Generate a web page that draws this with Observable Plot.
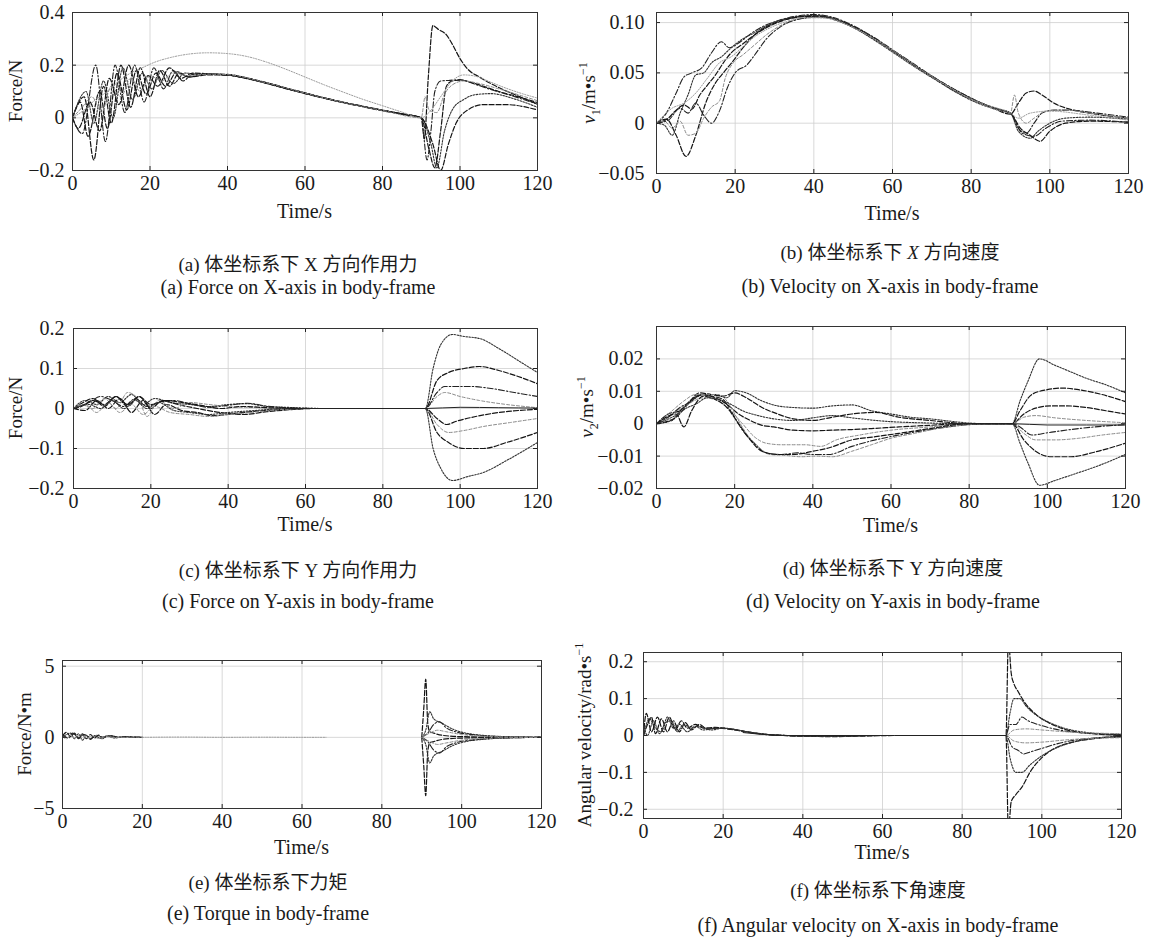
<!DOCTYPE html>
<html><head><meta charset="utf-8">
<script src="https://cdn.jsdelivr.net/npm/d3@7"></script>
<script src="https://cdn.jsdelivr.net/npm/@observablehq/plot@0.6"></script>
<style>
html,body{margin:0;padding:0;background:#fff;}
#root{position:relative;width:1162px;height:939px;overflow:hidden;background:#fff;font-family:"Liberation Serif","Noto Sans CJK SC",serif;color:#1a1a1a;}
.cap{position:absolute;transform:translate(-50%,-50%);white-space:nowrap;font-family:"Liberation Serif","Noto Sans CJK SC",serif;}
.cn{font-size:19px;}
.en{font-size:20px;}
.ylab{position:absolute;transform:translate(-50%,-50%) rotate(-90deg);white-space:nowrap;font-size:19px;}
.xlab{position:absolute;transform:translate(-50%,-50%);white-space:nowrap;font-size:20px;}
sub,sup{font-size:12px;}
</style></head><body><div id="root"></div>
<script>
// ---------- tick labels ----------
const X_TICKS = [0, 20, 40, 60, 80, 100, 120];
const A_YTICKS = [-0.2, 0, 0.2, 0.4];
const B_YTICKS = [-0.05, 0, 0.05, 0.10];
const C_YTICKS = [-0.2, -0.1, 0, 0.1, 0.2];
const D_YTICKS = [-0.02, -0.01, 0, 0.01, 0.02];
const E_YTICKS = [-5, 0, 5];
const F_YTICKS = [-0.2, -0.1, 0, 0.1, 0.2];

// ---------- (a) Force X ----------
const A1 = [[0,0],[3,0.08],[5.5,-0.16],[8,0.12],[10,-0.02],[12.5,0.2],[15,0.04],[17.5,0.19],[20,0.08],[22.5,0.18],[25,0.12],[27.5,0.17],[30,0.155],[35,0.167],[40,0.165],[45,0.152],[50,0.134],[55,0.114],[60,0.095],[65,0.076],[70,0.059],[75,0.044],[80,0.029],[85,0.015],[90,0.0],[90.8,-0.08],[91.8,0.15],[93,0.35],[94.5,0.335],[96.5,0.315],[98,0.28],[100,0.225],[102,0.185],[105,0.155],[110,0.115],[115,0.083],[120,0.052]];
const A2 = [[0,0],[2.5,-0.06],[6,0.2],[8.5,-0.09],[11,0.2],[13.5,0.02],[16,0.2],[18.5,0.06],[21,0.19],[23.5,0.11],[26,0.18],[28.5,0.14],[31,0.165],[35,0.165],[40,0.163],[45,0.15],[50,0.132],[55,0.112],[60,0.093],[65,0.075],[70,0.058],[75,0.043],[80,0.028],[85,0.015],[90,0.0],[91.5,-0.16],[92.5,-0.05],[93.5,0.1],[95,0.14],[97,0.142],[100,0.145],[103,0.132],[107,0.112],[112,0.09],[120,0.052]];
const A3 = [[0,0],[2,0.06],[4,-0.07],[7,0.1],[9,-0.04],[11.5,0.17],[14,0.03],[16.5,0.18],[19,0.09],[21.5,0.17],[24,0.12],[27,0.175],[30,0.155],[35,0.163],[40,0.162],[45,0.149],[50,0.131],[55,0.111],[60,0.092],[65,0.074],[70,0.057],[75,0.042],[80,0.027],[85,0.014],[90,0.0],[92,-0.12],[93.5,-0.19],[95,-0.05],[96.5,0.12],[98,0.14],[100,0.143],[105,0.125],[110,0.1],[115,0.08],[120,0.058]];
const A4 = [[0,0],[3.5,0.1],[5.5,-0.02],[8,0.14],[10.5,0.0],[13,0.19],[15.5,0.07],[18,0.17],[20.5,0.11],[23,0.18],[26,0.13],[29,0.17],[33,0.165],[38,0.165],[43,0.156],[48,0.139],[53,0.12],[58,0.1],[63,0.082],[68,0.064],[73,0.049],[78,0.034],[84,0.018],[90,0.0],[92.5,-0.1],[94,-0.19],[96,-0.05],[98,0.03],[101,0.07],[104,0.088],[108,0.092],[114,0.072],[120,0.04]];
const A5 = [[0,0],[1.5,-0.04],[4.5,0.06],[7,-0.05],[9.5,0.15],[12,0.05],[14.5,0.2],[17,0.08],[19.5,0.16],[22,0.12],[25,0.19],[28,0.15],[31,0.17],[36,0.166],[41,0.161],[46,0.147],[51,0.129],[56,0.109],[61,0.09],[66,0.072],[71,0.055],[76,0.04],[81,0.026],[86,0.012],[90,0.0],[93,-0.1],[95,-0.2],[97,-0.1],[99,-0.02],[102,0.03],[106,0.05],[112,0.05],[120,0.03]];
const A6 = [[0,0],[2.5,0.04],[5,0.08],[7.5,0.02],[10,0.12],[12.5,0.08],[15,0.15],[17.5,0.1],[20,0.16],[23,0.14],[26,0.17],[30,0.16],[35,0.166],[40,0.164],[50,0.133],[60,0.094],[70,0.058],[80,0.028],[90,0.0],[91,0.08],[92,0.03],[94,0.02],[96,0.09],[98,0.125],[101,0.14],[105,0.13],[110,0.11],[115,0.088],[120,0.065]];
const A7 = [[0,0],[3,0.03],[6,0.07],[9,0.1],[12,0.14],[15,0.17],[18,0.19],[21,0.21],[25,0.228],[30,0.242],[35,0.247],[40,0.244],[45,0.233],[50,0.212],[55,0.185],[60,0.155],[65,0.125],[70,0.097],[75,0.07],[80,0.046],[85,0.022],[90,0.0],[92,0.02],[95,0.08],[98,0.14],[101,0.163],[104,0.158],[108,0.135],[112,0.112],[116,0.092],[120,0.075]];

// ---------- (b) Velocity X ----------
const B1 = [[0,0],[2.5,0.004],[5,-0.012],[7.5,-0.033],[10,-0.012],[12.5,0.02],[15,0.04],[17,0.05],[19.5,0.062],[22,0.075],[25,0.088],[28,0.096],[31,0.101],[35,0.105],[40,0.107],[45,0.104],[50,0.096],[55,0.085],[60,0.072],[65,0.059],[70,0.046],[75,0.034],[80,0.024],[85,0.016],[90,0.009],[92,0.02],[94,0.03],[96,0.032],[98,0.028],[101,0.02],[105,0.014],[110,0.01],[120,0.005]];
const B2 = [[0,0],[2.5,0.01],[5,0.03],[7,0.046],[9,0.05],[11.5,0.055],[14,0.07],[16.5,0.081],[18.5,0.075],[21,0.08],[24,0.089],[27,0.096],[31,0.102],[35,0.106],[40,0.108],[45,0.105],[50,0.097],[55,0.086],[60,0.073],[65,0.06],[70,0.047],[75,0.035],[80,0.025],[85,0.016],[90,0.01],[92,-0.005],[94,-0.01],[96,0.0],[98,0.01],[101,0.013],[105,0.013],[112,0.01],[120,0.006]];
const B3 = [[0,0],[2,-0.002],[4,-0.012],[6,0.01],[8,0.028],[10,0.048],[12,0.05],[14,0.06],[16.5,0.066],[19,0.075],[22,0.084],[25,0.09],[28,0.097],[32,0.103],[36,0.106],[41,0.107],[46,0.102],[51,0.093],[56,0.081],[61,0.068],[66,0.055],[71,0.043],[76,0.031],[81,0.021],[86,0.014],[90,0.01],[92,-0.008],[95,-0.015],[97,-0.008],[100,0.0],[104,0.005],[110,0.006],[120,0.004]];
const B4 = [[0,0],[3,0.005],[5,0.013],[7,0.018],[9,0.014],[11,0.028],[13,0.038],[15,0.048],[17,0.06],[19,0.07],[22,0.079],[25,0.088],[29,0.097],[33,0.103],[38,0.106],[43,0.105],[48,0.099],[53,0.089],[58,0.077],[63,0.064],[68,0.051],[73,0.039],[78,0.028],[83,0.019],[88,0.012],[90,0.01],[92.5,-0.005],[95,-0.012],[97.5,-0.018],[100,-0.008],[104,0.0],[110,0.002],[120,0.001]];
const B5 = [[0,0],[2,0.002],[4,-0.005],[6,0.002],[8,-0.012],[10,-0.01],[12,0.005],[14,0.016],[16,0.022],[17.5,0.045],[19.5,0.06],[22,0.068],[25,0.078],[28,0.088],[32,0.098],[37,0.104],[42,0.105],[47,0.1],[52,0.091],[57,0.079],[62,0.066],[67,0.053],[72,0.041],[77,0.03],[82,0.02],[87,0.013],[90,0.01],[91,0.028],[92,0.01],[94,0.0],[96,0.005],[99,0.012],[104,0.013],[110,0.01],[120,0.005]];
const B6 = [[0,0],[3,0.003],[6,0.015],[8,0.01],[10,0.02],[12,0.008],[14,0.0],[16,0.012],[18,0.035],[20,0.05],[23,0.058],[25,0.068],[28,0.084],[32,0.097],[37,0.104],[42,0.106],[47,0.101],[52,0.092],[57,0.08],[62,0.067],[67,0.054],[72,0.042],[77,0.031],[82,0.021],[87,0.014],[90,0.01],[93,-0.01],[96,-0.013],[99,-0.005],[103,0.002],[110,0.003],[120,0.001]];
const B7 = [[0,0],[4,0.015],[7,0.02],[10,0.03],[13,0.045],[16,0.06],[19,0.066],[22,0.076],[25,0.086],[29,0.095],[33,0.101],[38,0.105],[44,0.104],[49,0.097],[54,0.087],[59,0.075],[64,0.062],[69,0.049],[74,0.037],[79,0.026],[84,0.018],[90,0.01],[92,0.005],[95,0.01],[100,0.012],[110,0.008],[120,0.003]];

// ---------- (c) Force Y ----------
const C1 = [[0,0],[3,0.02],[6,0.01],[9,0.03],[12,0.015],[15,0.035],[18,0.01],[21,0.025],[25,0.015],[30,0.01],[35,0.005],[40,0.01],[45,0.012],[50,0.005],[55,0.003],[60,0.001],[65,0],[91,0],[93,0.1],[95,0.16],[98,0.185],[101,0.18],[105,0.175],[110,0.15],[115,0.12],[120,0.09]];
const C2 = [[0,0],[2.5,0.015],[5,0.025],[8,0.005],[11,0.03],[14,0.005],[17,0.03],[20,0.0],[23,0.02],[27,0.01],[32,0.0],[38,-0.01],[44,-0.015],[50,-0.008],[56,-0.003],[62,0],[91,0],[94,-0.06],[97,-0.085],[101,-0.1],[106,-0.1],[112,-0.085],[120,-0.06]];
const C3 = [[0,0],[3,-0.005],[6,0.02],[9,0.0],[12,0.025],[15,-0.01],[18,0.02],[21,-0.015],[24,0.01],[28,-0.005],[32,-0.01],[36,-0.018],[42,-0.012],[48,-0.006],[55,-0.002],[60,0],[91,0],[94,0.07],[97,0.09],[101,0.1],[105,0.105],[110,0.095],[115,0.08],[120,0.062]];
const C4 = [[0,0],[2,0.01],[5,0.0],[8,0.025],[11,0.0],[14,0.04],[17,0.02],[19,-0.02],[22,0.02],[26,0.0],[30,0.015],[35,0.01],[40,0.005],[48,0.002],[55,0],[91,0],[94,0.03],[96,0.04],[100,0.03],[105,0.02],[112,0.01],[120,0.002]];
const C5 = [[0,0],[4,0.015],[7,0.03],[10,0.02],[13,0.005],[16,0.025],[19,0.005],[22,0.015],[26,0.02],[30,0.012],[35,0.003],[40,0.008],[45,0.013],[50,0.006],[58,0.001],[65,0],[91,0],[94,0.04],[96,0.055],[99,0.055],[103,0.055],[108,0.05],[114,0.04],[120,0.03]];
const C6 = [[0,0],[3,0.01],[6,-0.01],[9,0.015],[12,-0.01],[15,0.01],[18,-0.015],[21,0.005],[25,-0.01],[30,-0.015],[35,-0.02],[40,-0.015],[46,-0.01],[52,-0.004],[60,0],[91,0],[94,-0.04],[97,-0.06],[101,-0.055],[106,-0.045],[113,-0.035],[120,-0.025]];
const C7 = [[0,0],[2,0.005],[5,0.02],[8,0.01],[11,0.03],[14,0.01],[17,0.03],[20,0.01],[24,0.02],[28,0.015],[33,0.008],[38,0.0],[44,0.005],[50,0.002],[58,0],[91,0],[94,-0.025],[96.5,-0.04],[99,-0.032],[104,-0.02],[110,-0.01],[120,-0.002]];
const C8 = [[0,0],[4,0.01],[7,0.0],[10,0.02],[13,0.0],[16,0.02],[19,0.0],[22,0.015],[26,-0.005],[30,-0.01],[35,-0.015],[40,-0.01],[47,-0.005],[55,0],[91,0],[93,-0.1],[95,-0.15],[98,-0.18],[102,-0.17],[106,-0.16],[112,-0.13],[120,-0.085]];
const C9 = [[55,0],[91,0],[100,0.003],[110,0.002],[120,0.001]];

// ---------- (d) Velocity Y ----------
const D1 = [[0,0],[4,0.001],[6,0.004],[9,0.007],[12,0.009],[15,0.009],[18,0.008],[20,0.0102],[23,0.0095],[27,0.007],[31,0.0055],[35,0.005],[40,0.0048],[45,0.0055],[50,0.0058],[55,0.004],[60,0.003],[65,0.002],[70,0.0015],[75,0.0008],[80,0.0002],[85,0],[91,0],[93,0.007],[95,0.013],[98,0.02],[102,0.018],[106,0.016],[110,0.014],[115,0.012],[120,0.0095]];
const D2 = [[0,0],[5,0.002],[8,0.006],[11,0.0095],[14,0.009],[17,0.0085],[20,0.0095],[23,0.008],[27,0.005],[31,0.003],[35,0.0015],[40,0.001],[45,0.002],[50,0.003],[56,0.0035],[62,0.002],[70,0.001],[80,0],[91,0],[93,0.004],[96,0.009],[100,0.0105],[104,0.011],[108,0.0105],[114,0.009],[120,0.0068]];
const D3 = [[0,0],[3,0.003],[6,0.004],[9,0.0075],[12,0.009],[15,0.008],[18,0.006],[21,0.003],[24,0.001],[27,-0.0005],[30,-0.001],[35,-0.002],[40,-0.0022],[45,-0.002],[50,-0.0018],[55,-0.0015],[62,-0.001],[70,-0.0005],[80,0],[91,0],[94,0.003],[97,0.0048],[101,0.0055],[105,0.0055],[110,0.005],[115,0.004],[120,0.003]];
const D4 = [[0,0],[4,0.003],[8,0.006],[12,0.008],[16,0.007],[19,0.004],[22,0.0],[25,-0.004],[28,-0.006],[32,-0.0065],[38,-0.0065],[42,-0.007],[46,-0.005],[52,-0.0035],[60,-0.002],[70,-0.001],[80,0],[91,0],[94,0.002],[97,0.0025],[102,0.0018],[110,0.001],[120,0.0003]];
const D5 = [[0,0],[3,0.002],[6,0.005],[9,0.007],[11,0.009],[14,0.0085],[17,0.0075],[19,0.004],[22,-0.002],[25,-0.006],[28,-0.009],[32,-0.0095],[36,-0.009],[40,-0.0095],[44,-0.0095],[50,-0.007],[56,-0.005],[62,-0.0035],[70,-0.0018],[78,-0.0005],[85,0],[91,0],[93,-0.001],[96,-0.0035],[100,-0.0028],[106,-0.0018],[112,-0.001],[120,-0.0003]];
const D6 = [[0,0],[4,0.004],[7,0.007],[10,0.009],[13,0.009],[16,0.009],[18,0.007],[20,0.003],[23,-0.003],[26,-0.007],[29,-0.0095],[33,-0.0098],[37,-0.0102],[41,-0.01],[45,-0.0102],[50,-0.0085],[55,-0.0065],[60,-0.0045],[66,-0.003],[72,-0.0015],[80,-0.0003],[85,0],[91,0],[94,-0.003],[97,-0.005],[102,-0.005],[108,-0.0045],[114,-0.0035],[120,-0.0027]];
const D7 = [[0,0],[5,0.003],[7,-0.001],[9,0.004],[12,0.0085],[15,0.0075],[18,0.005],[21,0.0],[24,-0.005],[27,-0.0085],[31,-0.0095],[35,-0.0095],[40,-0.0085],[44,-0.0075],[50,-0.005],[56,-0.004],[62,-0.003],[70,-0.0015],[80,0],[91,0],[94,-0.005],[97,-0.0085],[101,-0.0102],[106,-0.0102],[112,-0.0088],[120,-0.006]];
const D8 = [[0,0],[4,0.002],[8,0.005],[10,0.006],[13,0.008],[16,0.0075],[19,0.006],[22,0.004],[26,0.0025],[30,0.0015],[35,0.001],[40,0.0018],[45,0.0025],[50,0.0018],[58,0.0008],[70,0.0002],[80,0],[91,0],[93,-0.006],[95,-0.012],[98,-0.019],[102,-0.0175],[107,-0.0155],[113,-0.013],[120,-0.0095]];
const D9 = [[75,0],[91,0],[100,-0.0004],[120,-0.0004]];

// ---------- (e) Torque ----------
const E_early1 = [[0,0.1],[1,0.35],[2,0.05],[3,0.3],[4,-0.1],[5,0.25],[6,-0.1],[7,0.2],[8,-0.05],[9,0.15],[10,0.0],[12,0.1],[14,0.0],[16,0.05],[18,0.0],[20,0.0]];
const E_early2 = [[0,0.0],[1,0.2],[2,0.3],[3,-0.1],[4,0.25],[5,-0.2],[6,0.15],[7,-0.15],[8,0.1],[10,-0.1],[11,0.1],[13,-0.05],[15,0.03],[18,0.0],[20,0.0]];
const E_early3 = [[0,0.2],[1.5,-0.05],[2.5,0.3],[4,0.0],[5.5,0.2],[7,-0.1],[8.5,0.15],[10,0.0],[12,0.12],[14,0.02],[16,0.06],[20,0.0]];
const E_early4 = [[0,0.05],[1,-0.1],[2,0.15],[3,-0.05],[4.5,0.2],[6,-0.05],[7.5,0.1],[9,-0.08],[11,0.05],[13,-0.02],[17,0.02],[20,0.0]];
const E_zero = [[20,0],[30,0.02],[40,0.0],[50,0.01],[60,0],[66,0]];
const E1 = [[90,0],[90.5,2],[91,4.1],[91.5,1],[92,0.4],[93,0.3],[95,0.15],[100,0.05],[110,0.01],[120,0]];
const E2 = [[90,0],[90.5,-2],[91,-4.1],[91.5,-1],[92,-0.4],[93,-0.3],[95,-0.15],[100,-0.05],[110,-0.01],[120,0]];
const E3 = [[90,0],[91,0.5],[92,1.8],[93,1.3],[95,1.0],[98,0.55],[101,0.3],[105,0.15],[110,0.06],[120,0]];
const E4 = [[90,0],[91,-0.5],[92,-1.8],[93,-1.3],[95,-1.0],[98,-0.55],[101,-0.3],[105,-0.15],[110,-0.06],[120,0]];
const E5 = [[90,0],[91.5,0.3],[93,0.9],[94.5,1.1],[96,0.7],[99,0.35],[103,0.18],[108,0.07],[115,0.02],[120,0]];
const E6 = [[90,0],[91.5,-0.3],[93,-0.9],[94.5,-1.1],[96,-0.7],[99,-0.35],[103,-0.18],[108,-0.07],[115,-0.02],[120,0]];
const E7 = [[90,0],[92,0.3],[94,0.5],[96,0.4],[100,0.2],[108,0.05],[120,0]];
const E8 = [[90,0],[92,-0.3],[94,-0.5],[96,-0.4],[100,-0.2],[108,-0.05],[120,0]];

// ---------- (f) Angular velocity ----------
const F1 = [[0,0],[0.7,0.06],[2,0.01],[3.5,0.05],[5,0.01],[6.5,0.05],[8,0.015],[9.5,0.04],[11,0.02],[13,0.03],[15,0.02],[18,0.022],[22,0.017],[26,0.01],[30,0.004],[35,0.0],[40,-0.002],[48,-0.003],[55,-0.001],[65,0],[91,0],[91.6,0.26],[92.3,0.17],[93,0.14],[94,0.12],[96,0.085],[98,0.062],[100,0.045],[103,0.028],[106,0.016],[110,0.008],[115,0.003],[120,0.0]];
const F2 = [[0,0.0],[1,0.03],[2,0.05],[3,0.005],[4.5,0.045],[6,0.01],[7.5,0.04],[9,0.01],[10.5,0.035],[12,0.015],[14,0.03],[16,0.018],[19,0.02],[23,0.015],[28,0.006],[33,0.001],[40,-0.001],[50,-0.002],[60,0],[91,0],[91.6,-0.26],[92.3,-0.18],[93.5,-0.16],[95,-0.14],[97,-0.1],[100,-0.06],[103,-0.036],[107,-0.02],[112,-0.01],[120,-0.003]];
const F3 = [[0,0.03],[1,0.0],[2.5,0.04],[4,0.005],[5.5,0.035],[7,0.04],[8.5,0.01],[10,0.03],[12,0.02],[14,0.025],[17,0.015],[20,0.02],[25,0.012],[30,0.004],[36,0],[45,-0.002],[55,0],[91,0],[92,0.06],[93,0.1],[94.5,0.1],[96,0.08],[98,0.06],[101,0.04],[105,0.022],[110,0.01],[120,0.002]];
const F4 = [[0,0.0],[1.5,0.045],[3,0.02],[4.5,0.01],[6,0.05],[7.5,0.02],[9,0.03],[11,0.01],[13,0.025],[15,0.015],[18,0.02],[22,0.018],[27,0.008],[32,0.002],[40,-0.001],[50,-0.002],[60,0],[91,0],[92,-0.06],[93.5,-0.1],[95,-0.1],[97,-0.08],[100,-0.055],[104,-0.032],[109,-0.015],[115,-0.006],[120,-0.003]];
const F5 = [[40,0],[91,0],[92,0.03],[93.5,0.03],[95,0.05],[96.5,0.04],[99,0.03],[103,0.018],[109,0.008],[120,0.003]];
const F6 = [[40,0],[91,0],[92.5,-0.03],[94,-0.04],[95.5,-0.05],[97,-0.045],[100,-0.035],[104,-0.022],[110,-0.01],[120,-0.003]];
const F7 = [[40,0],[91,0],[93,0.015],[96,0.018],[100,0.015],[106,0.01],[112,0.007],[120,0.005]];
const F8 = [[40,0],[91,0],[93,-0.015],[96,-0.02],[100,-0.018],[106,-0.012],[112,-0.008],[120,-0.006]];
const F9 = [[25,0.008],[30,0.003],[35,0],[91,0]];

// ---------- texts ----------
const Y_LABELS = ["Force/N", "<i>v</i><sub>1</sub>/m•s<sup>−1</sup>", "Force/N", "<i>v</i><sub>2</sub>/m•s<sup>−1</sup>", "Force/N•m", "Angular velocity/rad•s<sup>−1</sup>"];
const X_LABEL = "Time/s";
const CAPTIONS_CN = ["(a) 体坐标系下 X 方向作用力", "(b) 体坐标系下 <i>X</i> 方向速度", "(c) 体坐标系下 Y 方向作用力", "(d) 体坐标系下 Y 方向速度", "(e) 体坐标系下力矩", "(f) 体坐标系下角速度"];
const CAPTIONS_EN = ["(a) Force on X-axis in body-frame", "(b) Velocity on X-axis in body-frame", "(c) Force on Y-axis in body-frame", "(d) Velocity on Y-axis in body-frame", "(e) Torque in body-frame", "(f) Angular velocity on X-axis in body-frame"];

// ---------- styles ----------
const STY = {
  dash:    {stroke:"#151515", strokeWidth:1.2, strokeDasharray:"5,2"},
  dashdot: {stroke:"#222", strokeWidth:1.1, strokeDasharray:"6,2,1.5,2"},
  dot:     {stroke:"#333", strokeWidth:1.1, strokeDasharray:"1.6,1.4"},
  light:   {stroke:"#8a8a8a", strokeWidth:1, strokeDasharray:"3,2"},
  lightdot:{stroke:"#9a9a9a", strokeWidth:1, strokeDasharray:"1.2,1.5"},
  solid:   {stroke:"#222", strokeWidth:1}
};
const fmt1 = d => d === 0 ? "0" : d3.format(".1f")(d);
const fmt2 = d => d === 0 ? "0" : d3.format(".2f")(d);
const fmt0 = d => d3.format("d")(d);

const root = document.getElementById("root");
function addDiv(cls, html, x, y) {
  const el = document.createElement("div");
  el.className = cls; el.innerHTML = html;
  el.style.left = x + "px"; el.style.top = y + "px";
  root.appendChild(el);
}

function panel(p) {
  const mL = 80, mR = 25, mT = 12, mB = 36;
  const marks = [
    Plot.gridX(X_TICKS, {stroke:"#cfcfcf", strokeOpacity:1, strokeWidth:0.8}),
    Plot.gridY(p.yTicks, {stroke:"#cfcfcf", strokeOpacity:1, strokeWidth:0.8}),
    ...p.series.map((s, i) => Plot.line(s, {x: d => d[0], y: d => d[1], curve: "monotone-x", clip: true, ...STY[p.styles[i]]})),
    Plot.ruleX(X_TICKS, {insetTop: p.fh - 4, stroke:"#222"}),
    Plot.ruleX(X_TICKS, {insetBottom: p.fh - 4, stroke:"#222"}),
    Plot.ruleY(p.yTicks, {insetLeft: p.fw - 4, stroke:"#222"}),
    Plot.ruleY(p.yTicks, {insetRight: p.fw - 4, stroke:"#222"}),
    Plot.frame({stroke:"#333", strokeWidth:1}),
    Plot.axisX(X_TICKS, {tickSize:0, tickPadding:5, fontSize:20, label:null, tickFormat: fmt0}),
    Plot.axisY(p.yTicks, {tickSize:0, tickPadding:p.yp, fontSize:20, label:null, tickFormat: p.fmt})
  ];
  const svg = Plot.plot({
    width: p.fw + mL + mR, height: p.fh + mT + mB,
    marginLeft: mL, marginRight: mR, marginTop: mT, marginBottom: mB,
    x: {domain: [0, 120]}, y: {domain: p.yDomain},
    style: {fontFamily: "Liberation Serif", fontSize: "20px", background: "transparent", color: "#1a1a1a", overflow: "visible"},
    marks
  });
  svg.style.position = "absolute";
  svg.style.left = (p.fx - mL) + "px";
  svg.style.top = (p.fy - mT) + "px";
  root.appendChild(svg);
  addDiv("ylab", Y_LABELS[p.i], p.ylx, p.fy + p.fh / 2);
  addDiv("xlab", X_LABEL, p.fx + p.fw / 2, p.fy + p.fh + p.xo);
  addDiv("cap cn", CAPTIONS_CN[p.i], p.capx, p.cn);
  addDiv("cap en", CAPTIONS_EN[p.i], p.capx, p.en);
}

panel({i:0, fx:72, fy:12, fw:465, fh:158, yDomain:[-0.2,0.4], yTicks:A_YTICKS, fmt:fmt1, yp:8, ylx:16, xo:41, capx:298, cn:262, en:287,
  series:[A1,A2,A3,A4,A5,A6,A7], styles:["dash","dashdot","dash","dot","dash","light","lightdot"]});
panel({i:1, fx:656, fy:12, fw:472, fh:161, yDomain:[-0.05,0.11], yTicks:B_YTICKS, fmt:fmt2, yp:12, ylx:590, xo:40, capx:890, cn:250, en:286,
  series:[B1,B2,B3,B4,B5,B6,B7], styles:["dash","dashdot","dot","dash","light","dashdot","lightdot"]});
panel({i:2, fx:73, fy:328, fw:464, fh:160, yDomain:[-0.2,0.2], yTicks:C_YTICKS, fmt:fmt1, yp:9, ylx:16, xo:36, capx:298, cn:568, en:601,
  series:[C1,C2,C3,C4,C5,C6,C7,C8,C9], styles:["dot","dash","dash","light","dashdot","light","dash","dot","solid"]});
panel({i:3, fx:656, fy:326, fw:469, fh:162, yDomain:[-0.02,0.03], yTicks:D_YTICKS, fmt:fmt2, yp:13, ylx:588, xo:37, capx:893, cn:566, en:601,
  series:[D1,D2,D3,D4,D5,D6,D7,D8,D9], styles:["dot","dash","dash","light","dashdot","light","dash","dot","solid"]});
panel({i:4, fx:62, fy:660, fw:479, fh:148, yDomain:[-5,5.4], yTicks:E_YTICKS, fmt:fmt0, yp:8, ylx:25, xo:39, capx:268, cn:880, en:913,
  series:[E_early1,E_early2,E_early3,E_early4,E_zero,E1,E2,E3,E4,E5,E6,E7,E8], styles:["dash","dot","dashdot","light","lightdot","dash","dash","dot","dot","dashdot","dashdot","light","light"]});
panel({i:5, fx:643, fy:652, fw:478, fh:166, yDomain:[-0.225,0.225], yTicks:F_YTICKS, fmt:fmt1, yp:10, ylx:584, xo:34, capx:878, cn:888, en:925,
  series:[F1,F2,F3,F4,F5,F6,F7,F8,F9], styles:["dash","dash","dot","dot","dashdot","dashdot","light","light","solid"]});
</script></body></html>
